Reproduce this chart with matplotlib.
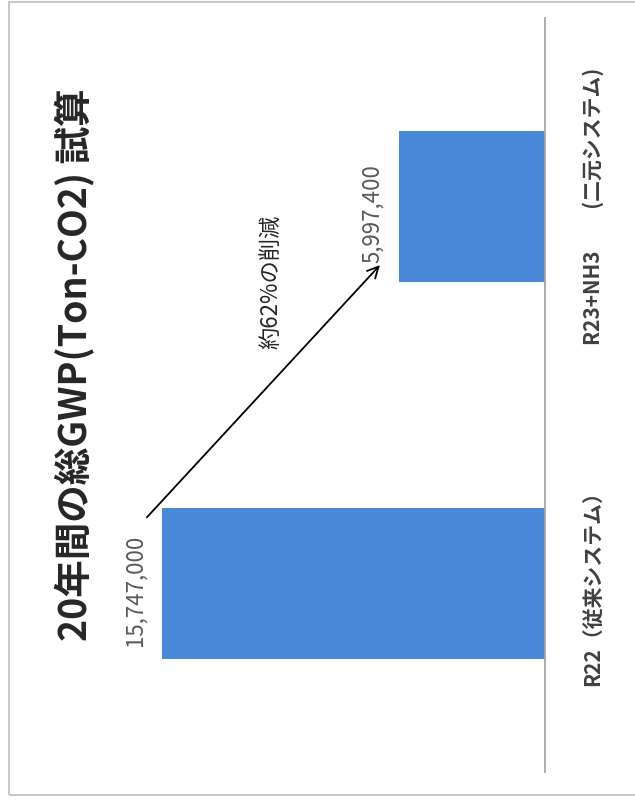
import matplotlib
matplotlib.use("Agg")
import matplotlib.pyplot as plt
from matplotlib.patches import Rectangle

plt.rcParams['font.family'] = ['Noto Sans CJK JP', 'DejaVu Sans']

categories = ["R22（従来システム）", "R23+NH3　　(二元システム)"]
values = [15747000, 5997400]
value_labels = ["15,747,000", "5,997,400"]
title = "20年間の総GWP(Ton-CO2) 試算"
note = "約62%の削減"

W, H = 635, 808
fig = plt.figure(figsize=(W / 100, H / 100), dpi=100)
fig.patch.set_facecolor("white")

# outer frame of the scanned slide
fig.add_artist(Rectangle((9 / W, 13 / H), 1.0, (806 - 13) / H, transform=fig.transFigure,
                         fill=False, edgecolor="#c4c4c4", lw=1.3, clip_on=False))

ax = fig.add_axes([107 / W, 36 / H, 438 / W, 754 / H])
ypos = list(range(len(categories)))
ax.barh(ypos, values, height=0.4, color="#4a89d8")
ax.set_xlim(18000000, 0)
ax.set_ylim(-0.5, 1.5)

for s in ["top", "bottom", "left"]:
    ax.spines[s].set_visible(False)
ax.spines["right"].set_color("#a6a6a6")
ax.spines["right"].set_linewidth(1.3)
ax.set_xticks([])
ax.yaxis.tick_right()
ax.set_yticks(ypos)
ax.set_yticklabels(categories, rotation=90, fontsize=15, fontweight="bold", color="#404040")
for t in ax.get_yticklabels():
    t.set_va("center")
    t.set_ha("left")
ax.tick_params(axis="y", length=0, pad=27)

for y, v, lab in zip(ypos, values, value_labels):
    ax.annotate(lab, xy=(v, y), xytext=(-11, -5), textcoords="offset points",
                rotation=90, ha="right", va="center", fontsize=16, color="#595959")

# reduction arrow between the two bar ends
ax.annotate("", xy=(values[1] * 1.118, 0.85), xytext=(values[0] * 1.044, 0.17),
            arrowprops=dict(arrowstyle="->", color="black", lw=1.3, mutation_scale=20))
ax.text(values[1] * 1.88, 0.80, note, rotation=90, ha="center", va="center",
        fontsize=16, color="#262626")

fig.text(75 / W, 1 - 365 / H, title, rotation=90, ha="center", va="center",
         fontsize=27, fontweight="bold", color="#262626")

fig.savefig("out.png", dpi=100)
